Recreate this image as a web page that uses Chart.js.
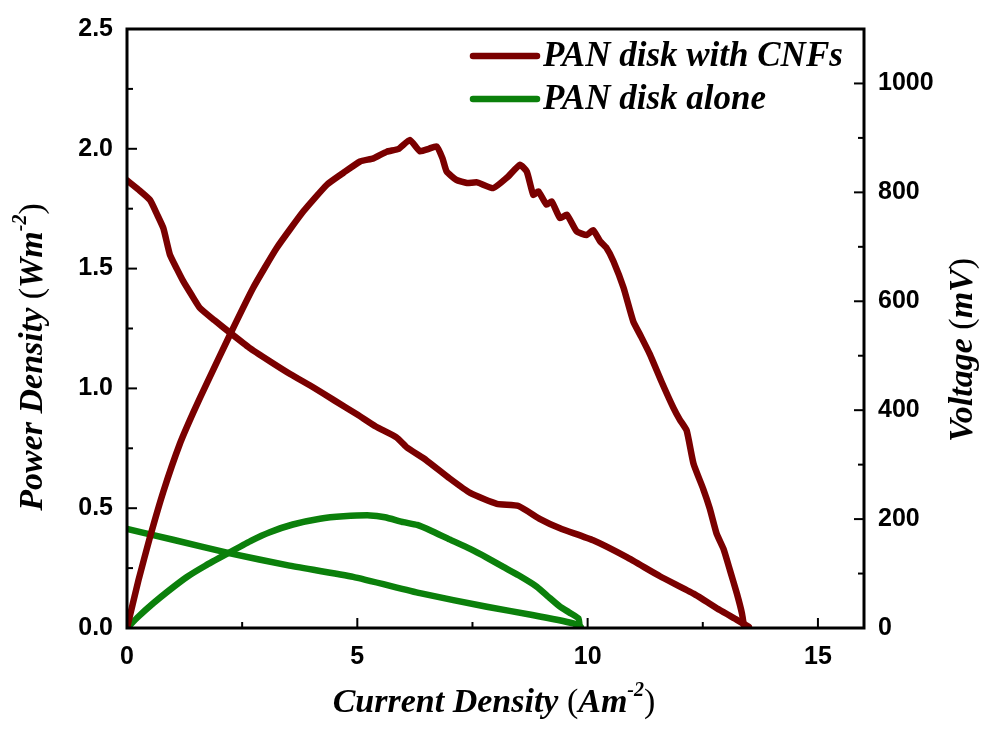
<!DOCTYPE html>
<html lang="en">
<head>
    <meta charset="UTF-8">
    <title>Power Density and Voltage</title>
    <script src="https://cdn.jsdelivr.net/npm/chart.js"></script>
    <style>
        html, body { margin: 0; padding: 0; background: #fff; }
        #wrap { width: 987px; height: 738px; }
    </style>
</head>
<body>
    <div id="wrap"><canvas id="pdChart" width="987" height="738"></canvas></div>

    <script>
        // PAN disk with CNFs - power density (W/m2) vs current density (A/m2)
        const cnfPowerX = [0, 0.25, 0.5, 0.79, 1.15, 1.44, 1.73, 2.24, 2.74, 3.25, 3.83, 4.34, 4.7, 5.06, 5.35, 5.64, 5.9, 6.14, 6.36, 6.55, 6.72, 6.85, 6.94, 7.15, 7.38, 7.6, 7.95, 8.25, 8.53, 8.68, 8.82, 8.93, 9.11, 9.22, 9.4, 9.55, 9.76, 9.98, 10.12, 10.27, 10.41, 10.56, 10.78, 10.99, 11.15, 11.35, 11.6, 11.86, 12.0, 12.15, 12.3, 12.51, 12.65, 12.8, 12.95, 13.09, 13.24, 13.35, 13.4];
        const cnfPower  = [0, 0.2, 0.38, 0.57, 0.77, 0.9, 1.02, 1.226, 1.42, 1.586, 1.739, 1.85, 1.9, 1.947, 1.96, 1.988, 2.0, 2.037, 1.99, 2.0, 2.01, 1.96, 1.905, 1.87, 1.857, 1.86, 1.836, 1.88, 1.933, 1.905, 1.808, 1.822, 1.767, 1.78, 1.711, 1.725, 1.656, 1.64, 1.66, 1.614, 1.586, 1.531, 1.42, 1.28, 1.22, 1.143, 1.03, 0.92, 0.87, 0.824, 0.685, 0.58, 0.5, 0.394, 0.33, 0.241, 0.144, 0.061, 0];

        // PAN disk with CNFs - voltage (mV)
        const cnfVoltX = [0, 0.25, 0.5, 0.65, 0.79, 0.93, 1.08, 1.22, 1.4, 1.58, 1.9, 2.24, 2.65, 3.1, 3.55, 4.04, 4.5, 5.0, 5.4, 5.85, 6.07, 6.5, 7.0, 7.45, 8.03, 8.5, 8.97, 9.4, 10.12, 10.85, 11.57, 12.3, 12.87, 13.24, 13.5];
        const cnfVolt  = [822, 805, 786, 760, 734, 686, 660, 637, 612, 588, 565, 542, 515, 490, 466, 442, 418, 392, 370, 350, 332, 308, 275, 248, 228, 224, 200, 183, 161, 130, 95, 63, 33, 15, 2];

        // PAN disk alone - power density
        const alonePowerX = [0, 0.25, 0.57, 0.9, 1.3, 1.7, 2.24, 2.7, 3.1, 3.6, 4.19, 4.7, 5.28, 5.6, 6.0, 6.3, 6.58, 7.0, 7.45, 7.8, 8.17, 8.5, 8.9, 9.15, 9.4, 9.6, 9.8, 9.83];
        const alonePower  = [0, 0.048, 0.103, 0.155, 0.213, 0.26, 0.317, 0.365, 0.4, 0.432, 0.456, 0.466, 0.47, 0.462, 0.442, 0.43, 0.408, 0.37, 0.33, 0.295, 0.255, 0.22, 0.172, 0.13, 0.089, 0.065, 0.04, 0];

        // PAN disk alone - voltage
        const aloneVoltX = [0, 1, 2.24, 3.5, 4.91, 6.36, 7.81, 8.8, 9.69, 9.85];
        const aloneVolt  = [182, 162, 137, 115, 94, 64, 39, 24, 8.6, 2];

        const seriesNames = ["PAN disk with CNFs", "PAN disk alone"];
        const xTicks = [0, 5, 10, 15];
        const leftTicks = [0, 0.5, 1.0, 1.5, 2.0, 2.5];
        const rightTicks = [0, 200, 400, 600, 800, 1000];

        const RED = "#7a0000";
        const GREEN = "#0b800b";

        function zip(xs, ys) {
            return xs.map((x, i) => ({ x: x, y: ys[i] }));
        }

        const tickFont = { family: "Liberation Sans", size: 25, weight: "bold" };
        const titleFamily = "'Liberation Serif'";

        // draw a line of text made of styled pieces, centred on (cx, cy)
        function drawRich(ctx, parts, cx, cy, rotate) {
            ctx.save();
            ctx.translate(cx, cy);
            if (rotate) ctx.rotate(rotate);
            let total = 0;
            parts.forEach(p => { ctx.font = p.font; total += ctx.measureText(p.text).width; });
            let x = -total / 2;
            ctx.fillStyle = "#000";
            ctx.textBaseline = "middle";
            parts.forEach(p => {
                ctx.font = p.font;
                ctx.fillText(p.text, x, p.dy || 0);
                x += ctx.measureText(p.text).width;
            });
            ctx.restore();
        }

        const BI = "italic bold 34px " + titleFamily;
        const PR = "34px " + titleFamily;
        const SUP = "italic bold 20px " + titleFamily;

        const framePlugin = {
            id: "frame",
            afterDraw(chart) {
                const ctx = chart.ctx;
                const a = chart.chartArea;
                const sx = chart.scales.x, sy = chart.scales.y, sy1 = chart.scales.y1;
                ctx.save();
                ctx.strokeStyle = "#000";
                ctx.lineWidth = 2;
                ctx.lineCap = "butt";
                // inward ticks
                const tick = (x1, y1, x2, y2) => { ctx.beginPath(); ctx.moveTo(x1, y1); ctx.lineTo(x2, y2); ctx.stroke(); };
                [0, 2.5, 5, 7.5, 10, 12.5, 15].forEach(v => {
                    const px = sx.getPixelForValue(v);
                    const len = (v % 5 === 0) ? 10 : 6;
                    tick(px, a.bottom, px, a.bottom - len);
                });
                for (let v = 0; v <= 2.5001; v += 0.25) {
                    const py = sy.getPixelForValue(v);
                    const major = Math.abs(v * 2 - Math.round(v * 2)) < 1e-6;
                    tick(a.left, py, a.left + (major ? 10 : 6), py);
                }
                for (let v = 0; v <= 1000; v += 100) {
                    const py = sy1.getPixelForValue(v);
                    tick(a.right, py, a.right - (v % 200 === 0 ? 10 : 6), py);
                }
                // frame
                ctx.lineWidth = 3;
                ctx.strokeRect(a.left, a.top, a.right - a.left, a.bottom - a.top);

                // legend
                const legendRows = [
                    { name: seriesNames[0], color: chart.data.datasets[0].borderColor, y: 56 },
                    { name: seriesNames[1], color: chart.data.datasets[2].borderColor, y: 99 }
                ];
                legendRows.forEach(r => {
                    ctx.strokeStyle = r.color;
                    ctx.lineWidth = 6.5;
                    ctx.lineCap = "round";
                    tick(473, r.y, 537, r.y);
                    ctx.fillStyle = "#000";
                    ctx.font = "italic bold 35px " + titleFamily;
                    ctx.textBaseline = "middle";
                    ctx.fillText(r.name, 543, r.y + 1);
                });

                // axis titles
                drawRich(ctx, [
                    { text: "Current Density ", font: BI },
                    { text: "(", font: PR },
                    { text: "Am", font: BI },
                    { text: "-2", font: SUP, dy: -12 },
                    { text: ")", font: PR }
                ], 494, 703, 0);
                drawRich(ctx, [
                    { text: "Power Density ", font: BI },
                    { text: "(", font: PR },
                    { text: "Wm", font: BI },
                    { text: "-2", font: SUP, dy: -12 },
                    { text: ")", font: PR }
                ], 33, 357, -Math.PI / 2);
                drawRich(ctx, [
                    { text: "Voltage ", font: BI },
                    { text: "(", font: PR },
                    { text: "mV", font: BI },
                    { text: ")", font: PR }
                ], 963, 350, -Math.PI / 2);
                ctx.restore();
            }
        };

        function keepTicks(list) {
            return function (scale) {
                scale.ticks = list.map(v => ({ value: v }));
            };
        }

        const lineStyle = {
            showLine: true,
            pointRadius: 0,
            borderWidth: 6.5,
            tension: 0.15,
            borderJoinStyle: "round",
            borderCapStyle: "round",
            fill: false
        };

        new Chart(document.getElementById("pdChart"), {
            type: "scatter",
            data: {
                datasets: [
                    Object.assign({ label: seriesNames[0] + " power", data: zip(cnfPowerX, cnfPower), borderColor: RED, yAxisID: "y" }, lineStyle),
                    Object.assign({ label: seriesNames[0] + " voltage", data: zip(cnfVoltX, cnfVolt), borderColor: RED, yAxisID: "y1" }, lineStyle),
                    Object.assign({ label: seriesNames[1] + " power", data: zip(alonePowerX, alonePower), borderColor: GREEN, yAxisID: "y" }, lineStyle),
                    Object.assign({ label: seriesNames[1] + " voltage", data: zip(aloneVoltX, aloneVolt), borderColor: GREEN, yAxisID: "y1" }, lineStyle)
                ]
            },
            options: {
                responsive: false,
                animation: false,
                layout: { padding: { top: 27 } },
                plugins: { legend: { display: false }, tooltip: { enabled: false } },
                scales: {
                    x: {
                        type: "linear", min: 0, max: 16,
                        grid: { display: false, drawTicks: false },
                        border: { display: false },
                        afterBuildTicks: keepTicks(xTicks),
                        afterFit(s) { s.height = 110; },
                        ticks: { color: "#000", font: tickFont, padding: 14, maxRotation: 0 }
                    },
                    y: {
                        type: "linear", position: "left", min: 0, max: 2.5,
                        grid: { display: false, drawTicks: false },
                        border: { display: false },
                        afterBuildTicks: keepTicks(leftTicks),
                        afterFit(s) { s.width = 127; },
                        ticks: { color: "#000", font: tickFont, padding: 14, callback: v => v.toFixed(1) }
                    },
                    y1: {
                        type: "linear", position: "right", min: 0, max: 1100,
                        grid: { display: false, drawTicks: false },
                        border: { display: false },
                        afterBuildTicks: keepTicks(rightTicks),
                        afterFit(s) { s.width = 123; },
                        ticks: { color: "#000", font: tickFont, padding: 14, callback: v => String(v) }
                    }
                }
            },
            plugins: [framePlugin]
        });
    </script>
</body>
</html>
